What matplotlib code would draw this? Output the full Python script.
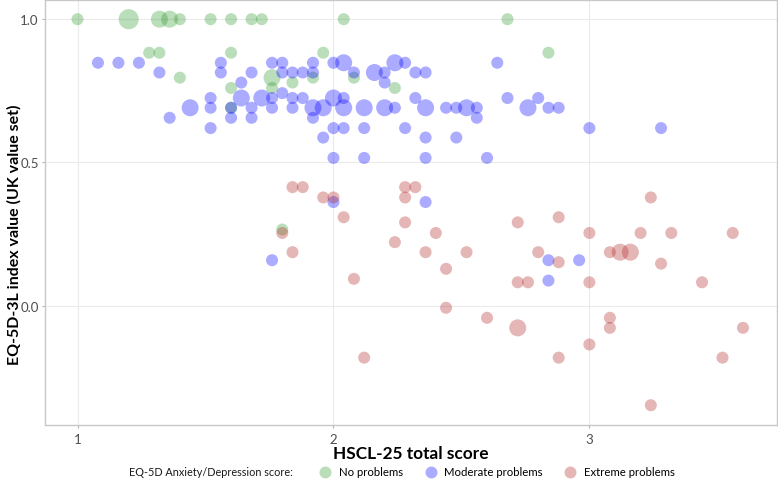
import numpy as np
import matplotlib.pyplot as plt
from matplotlib.lines import Line2D

plt.rcParams['font.family'] = ['Lato', 'DejaVu Sans']

# No problems (x = HSCL-25 score, y = EQ-5D index, n = overlapping cases)
no_x = [1.00, 1.20, 1.32, 1.36, 1.40, 1.52, 1.60, 1.68, 1.72, 2.04, 2.68,
        1.28, 1.32, 1.60, 1.96, 2.84,
        1.40, 1.92, 2.08, 1.76, 1.76, 1.60, 1.84, 2.24, 1.60, 1.80]
no_y = [1.0, 1.0, 1.0, 1.0, 1.0, 1.0, 1.0, 1.0, 1.0, 1.0, 1.0,
        0.883, 0.883, 0.883, 0.883, 0.883,
        0.796, 0.796, 0.796, 0.796, 0.760, 0.760, 0.779, 0.760, 0.691, 0.266]
no_n = [1, 3, 2, 2, 1, 1, 1, 1, 1, 1, 1,
        1, 1, 1, 1, 1,
        1, 1, 1, 2, 1, 1, 1, 1, 1, 1]

# Moderate problems
mod_x = [1.08, 1.16, 1.24, 1.56, 1.76, 1.80, 1.92, 2.00, 2.04, 2.24, 2.28, 2.64,
         1.32, 1.56, 1.68, 1.80, 1.84, 1.88, 1.92, 2.08, 2.16, 2.20, 2.32, 2.36,
         1.64, 2.20, 1.80,
         1.52, 1.64, 1.72, 1.76, 1.84, 1.88, 2.00, 2.04, 2.32, 2.68, 2.80,
         1.44, 1.52, 1.60, 1.68, 1.76, 1.84, 1.92, 1.96, 2.04, 2.12, 2.20, 2.24,
         2.36, 2.44, 2.48, 2.52, 2.56, 2.76, 2.84, 2.88,
         1.36, 1.60, 1.68, 1.92, 2.56,
         1.52, 2.00, 2.04, 2.12, 2.28, 3.00, 3.28,
         1.96, 2.36, 2.48,
         2.00, 2.12, 2.36, 2.60,
         2.00, 2.36,
         1.76, 2.84, 2.96, 2.84]
mod_y = [0.848] * 12 + [0.814] * 12 + [0.779, 0.779, 0.742] + [0.725] * 11 \
    + [0.691] * 20 + [0.656] * 5 + [0.620] * 7 + [0.587] * 3 + [0.516] * 4 \
    + [0.362] * 2 + [0.159, 0.159, 0.159, 0.088]
mod_n = [1, 1, 1, 1, 1, 1, 1, 1, 2, 2, 1, 1,
         1, 1, 1, 1, 1, 1, 1, 1, 2, 1, 1, 1,
         1, 1, 1,
         1, 2, 2, 1, 1, 1, 2, 1, 1, 1, 1,
         2, 1, 1, 1, 1, 1, 2, 2, 2, 2, 2, 1,
         2, 1, 1, 2, 1, 2, 1, 1,
         1, 1, 1, 1, 1,
         1, 1, 1, 1, 1, 1, 1,
         1, 1, 1,
         1, 1, 1, 1,
         1, 1,
         1, 1, 1, 1]

# Extreme problems
ext_x = [1.84, 1.88, 2.28, 2.32,
         1.96, 2.00, 2.28, 3.24,
         2.04, 2.88, 2.28, 2.72,
         1.80, 2.40, 3.00, 3.20, 3.32, 3.56,
         2.24,
         1.84, 2.36, 2.52, 2.80, 3.08, 3.12, 3.16,
         2.88, 3.28, 2.44, 2.08,
         2.72, 2.76, 3.00, 3.44,
         2.44, 2.60, 3.08,
         2.72, 3.08, 3.60,
         3.00, 2.12, 2.88, 3.52, 3.24]
ext_y = [0.414] * 4 + [0.378] * 4 + [0.309, 0.309, 0.291, 0.291] + [0.254] * 6 \
    + [0.222] + [0.187] * 7 + [0.152, 0.147, 0.129, 0.094] + [0.082] * 4 \
    + [-0.007, -0.042, -0.042] + [-0.077] * 3 \
    + [-0.135, -0.181, -0.181, -0.181, -0.347]
ext_n = [1] * 4 + [1] * 4 + [1] * 4 + [1] * 6 + [1] \
    + [1, 1, 1, 1, 1, 2, 2] + [1] * 4 + [1] * 4 \
    + [1] * 3 + [2, 1, 1] + [1] * 5

groups = [
    ('No problems', no_x, no_y, no_n, '#2E9B2E'),
    ('Moderate problems', mod_x, mod_y, mod_n, '#0000FF'),
    ('Extreme problems', ext_x, ext_y, ext_n, '#B22222'),
]
size_map = {1: 75, 2: 150, 3: 210}

fig = plt.figure(figsize=(7.78, 4.81), dpi=100)
ax = fig.add_axes([45 / 778, 55 / 481, 732 / 778, 425 / 481])

for label, xs, ys, ns, col in groups:
    ax.scatter(xs, ys, s=[size_map[n] for n in ns], color=col, alpha=0.33,
               linewidths=0, zorder=3)

ax.set_xlim(0.873, 3.733)
ax.set_ylim(-0.416, 1.067)
ax.set_xticks([1, 2, 3])
ax.set_yticks([0.0, 0.5, 1.0])
ax.set_yticklabels(['0.0', '0.5', '1.0'])
ax.grid(True, color='#EBEBEB', linewidth=0.8, zorder=0)
for s in ax.spines.values():
    s.set_color('#C8C8C8')
    s.set_linewidth(1.0)
ax.tick_params(colors='#B3B3B3', labelcolor='#4D4D4D', labelsize=9.5,
               length=2.5, width=0.8)
ax.tick_params(axis='y', pad=2)

ax.set_xlabel('HSCL-25 total score', fontsize=12.4, fontweight='bold',
              labelpad=0)
ax.set_ylabel('EQ-5D-3L index value (UK value set)', fontsize=11.5,
              fontweight='bold')
ax.yaxis.set_label_coords(-0.0325, 0.45)

fig.text(129 / 778, 1 - 473 / 481, 'EQ-5D Anxiety/Depression score:',
         fontsize=7.8, va='center', ha='left', color='#1A1A1A')
handles = [Line2D([], [], marker='o', linestyle='', markersize=8.6,
                  markerfacecolor=col, markeredgewidth=0, alpha=0.33,
                  label=label) for label, _, _, _, col in groups]
fig.legend(handles=handles, loc='center left', ncol=3, frameon=False,
           bbox_to_anchor=(314 / 778, 1 - 473 / 481), fontsize=8.2,
           handletextpad=0.6, columnspacing=1.8, handlelength=1.2,
           borderaxespad=0)

fig.savefig('out.png', dpi=100)
